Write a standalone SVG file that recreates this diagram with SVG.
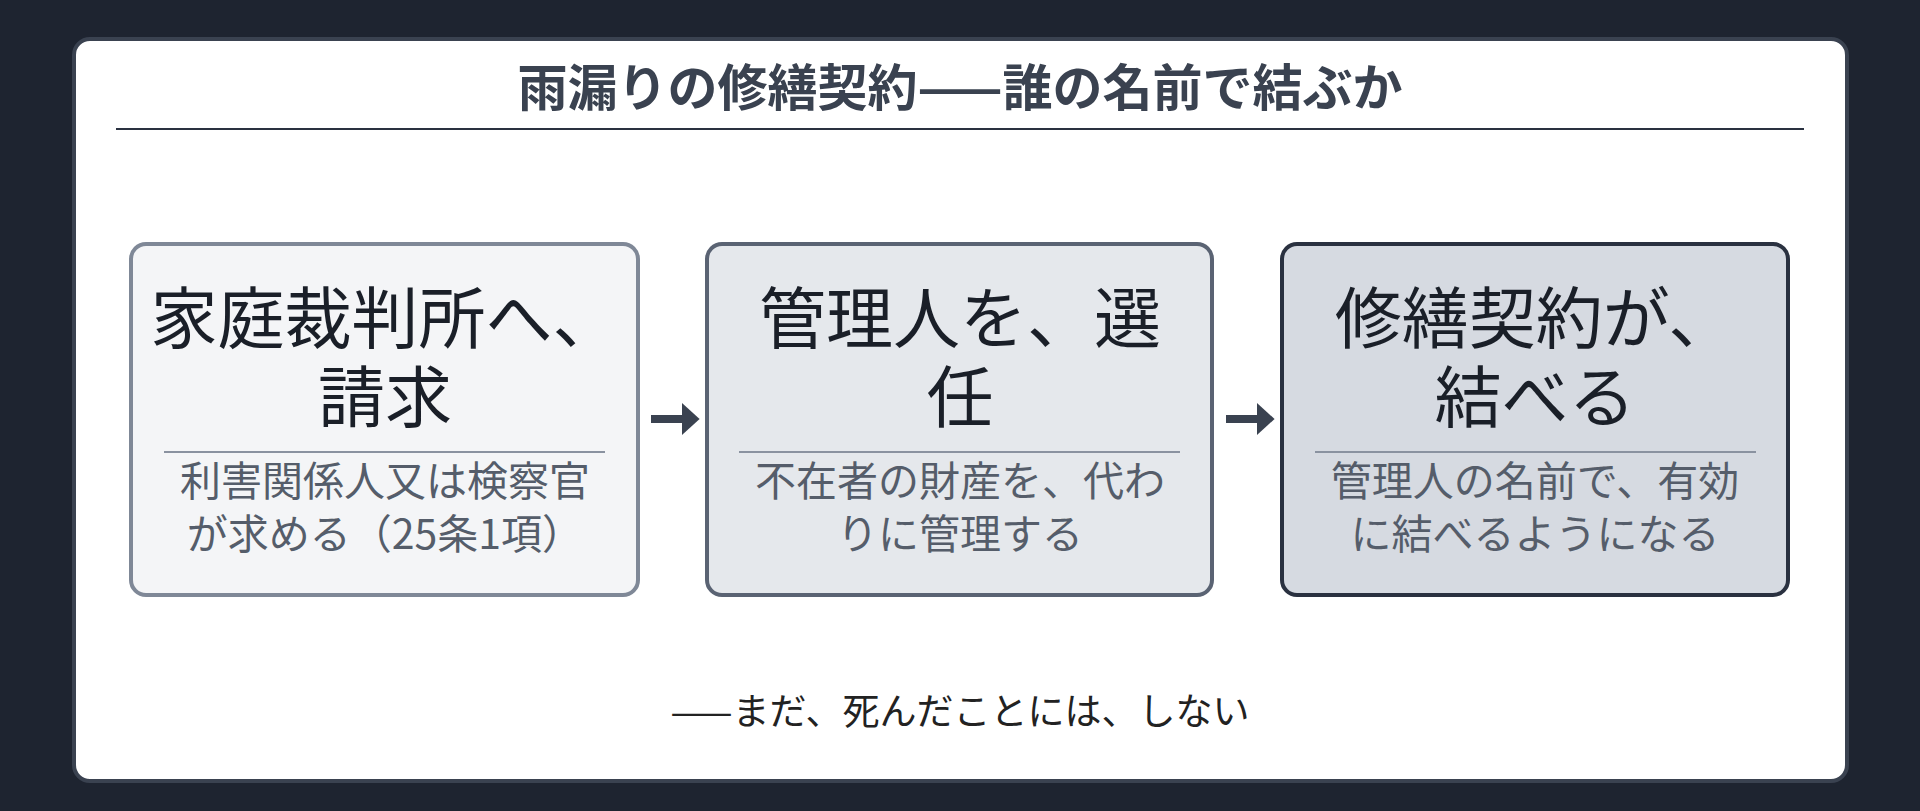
<svg xmlns="http://www.w3.org/2000/svg" width="1920" height="811" viewBox="0 0 1920 811">
<defs>
<style>
text{font-family:"Noto Sans CJK JP","Noto Sans",sans-serif;text-anchor:middle}
.t{font-size:50px;font-weight:bold;fill:#3a4250}
.h{font-size:67px;fill:#1a1f28}
.s{font-size:41px;fill:#555d6a}
.f{font-size:37px;fill:#222}
.box{stroke-width:4}
.div{stroke:#8a92a0;stroke-width:2}
</style>
<marker id="ah" markerWidth="4" markerHeight="4" refX="1" refY="2" orient="auto" markerUnits="strokeWidth"><path d="M0,0 L2.2,2 L0,4 Z" fill="#3a4250"/></marker>
</defs>
<rect width="1920" height="811" fill="#1e2430"/>
<rect x="74" y="39" width="1773" height="742" rx="16" fill="#fff" stroke="#3a4250" stroke-width="4"/>
<text class="t" x="960" y="106">雨漏りの修繕契約——誰の名前で結ぶか</text>
<line x1="116" y1="129" x2="1804" y2="129" stroke="#2a3140" stroke-width="2"/>
<g id="n1">
<rect class="box" x="131" y="244" width="507" height="351" rx="15" fill="#f4f5f7" stroke="#7f8897"/>
<text class="h" x="385" y="343">家庭裁判所へ、</text>
<text class="h" x="385" y="422">請求</text>
<line class="div" x1="164" y1="452" x2="605" y2="452"/>
<text class="s" x="385" y="496">利害関係人又は検察官</text>
<text class="s" x="385" y="549">が求める（25条1項）</text>
</g>
<g id="n2">
<rect class="box" x="707" y="244" width="505" height="351" rx="15" fill="#e5e8ec" stroke="#5a6373"/>
<text class="h" x="960" y="343">管理人を、選</text>
<text class="h" x="960" y="422">任</text>
<line class="div" x1="739" y1="452" x2="1180" y2="452"/>
<text class="s" x="960" y="496">不在者の財産を、代わ</text>
<text class="s" x="960" y="549">りに管理する</text>
</g>
<g id="n3">
<rect class="box" x="1282" y="244" width="506" height="351" rx="15" fill="#d6dae1" stroke="#2a3140"/>
<text class="h" x="1535" y="343">修繕契約が、</text>
<text class="h" x="1535" y="422">結べる</text>
<line class="div" x1="1315" y1="452" x2="1756" y2="452"/>
<text class="s" x="1535" y="496">管理人の名前で、有効</text>
<text class="s" x="1535" y="549">に結べるようになる</text>
</g>
<g id="connectors" stroke="#3a4250" stroke-width="8">
<line x1="651" y1="419" x2="690" y2="419" marker-end="url(#ah)"/>
<line x1="1226" y1="419" x2="1265" y2="419" marker-end="url(#ah)"/>
</g>
<text class="f" x="960" y="725">——まだ、死んだことには、しない</text>
</svg>
